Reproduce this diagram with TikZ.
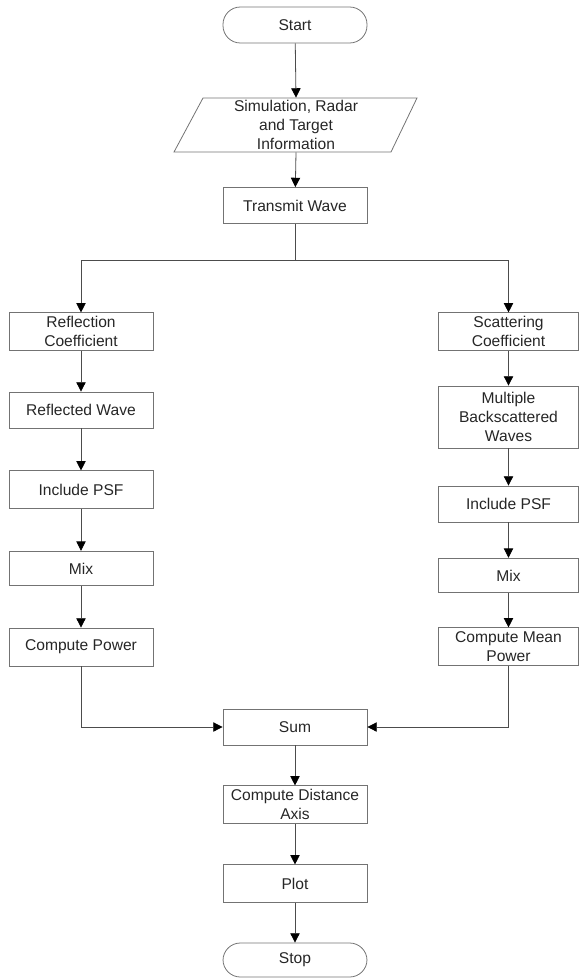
\documentclass[tikz,border=0pt]{standalone}
\usepackage{fontspec}
\setmainfont{Liberation Sans}
\usepackage{tikz}
\usetikzlibrary{arrows.meta, positioning}

\tikzset{
  block/.style={draw=black!55, rectangle, minimum width=108pt, minimum height=27pt,
    inner sep=0pt, align=center, text=black!85,
    font=\fontsize{11.7}{14.2}\selectfont},
  term/.style={block, rounded corners=13pt},
  line/.style={draw=black!70, line width=0.6pt}
}

\begin{document}
\begin{tikzpicture}[x=0.75pt, y=-0.75pt, >={Triangle[length=7pt, width=7pt, color=black]}, line width=0.6pt]
            \useasboundingbox (0,0) rectangle (579,978);
            % middle column
            \node [term] (Start) at (295, 25) {Start};
            \node [block, draw=none, minimum height=40.5pt] (Info) at (296, 125) {Simulation, Radar\\and Target\\Information};
            \draw [draw=black!55] (203, 98) -- (417, 98) -- (391, 152) -- (174, 152) -- cycle;
            \node [block] (Transmit) at (295, 205.5) {Transmit Wave};
            \coordinate (Split) at (295, 260);
            % left column
            \node [block, minimum height=28pt] (RefCoef) at (81, 331.5) {Reflection\\Coefficient};
            \node [block] (RefWave) at (81, 410) {Reflected Wave};
            \node [block, minimum height=28pt] (PsfL) at (81, 489.5) {Include PSF};
            \node [block, minimum height=26pt] (MixL) at (81, 568.5) {Mix};
            \node [block, minimum height=28.5pt] (Power) at (81, 647) {Compute Power};
            % right column
            \node [block, minimum width=105pt, minimum height=28pt] (ScatCoef) at (508.5, 331.5) {Scattering\\Coefficient};
            \node [block, minimum width=105pt, minimum height=46.5pt] (Backscat) at (508.5, 417) {Multiple\\Backscattered\\Waves};
            \node [block, minimum width=105pt] (PsfR) at (508.5, 504) {Include PSF};
            \node [block, minimum width=105pt, minimum height=26pt] (MixR) at (508.5, 575.5) {Mix};
            \node [block, minimum width=105pt, minimum height=28pt] (MeanPower) at (508.5, 646.5) {Compute Mean\\Power};
            % bottom
            \node [block] (Sum) at (295, 727) {Sum};
            \node [block, minimum height=28pt] (Distance) at (295, 804.5) {Compute Distance\\Axis};
            \node [block, minimum height=28pt] (Plot) at (295, 883.5) {Plot};
            \node [term, minimum height=25.5pt] (Stop) at (295, 960) {Stop};

            \draw [line, ->] (Start) -- (Info.north);
            \draw [line, ->] (Info.south) -- (Transmit);
            \draw [line] (Transmit) -- (Split);
            \draw [line, ->] (Split) -| (RefCoef);
            \draw [line, ->] (Split) -| (ScatCoef);
            \draw [line, ->] (RefCoef) -- (RefWave);
            \draw [line, ->] (RefWave) -- (PsfL);
            \draw [line, ->] (PsfL) -- (MixL);
            \draw [line, ->] (MixL) -- (Power);
            \draw [line, ->] (ScatCoef) -- (Backscat);
            \draw [line, ->] (Backscat) -- (PsfR);
            \draw [line, ->] (PsfR) -- (MixR);
            \draw [line, ->] (MixR) -- (MeanPower);
            \draw [line, ->] (Power) |- (Sum);
            \draw [line, ->] (MeanPower) |- (Sum);
            \draw [line, ->] (Sum) -- (Distance);
            \draw [line, ->] (Distance) -- (Plot);
            \draw [line, ->] (Plot) -- (Stop);
        \end{tikzpicture}
\end{document}
